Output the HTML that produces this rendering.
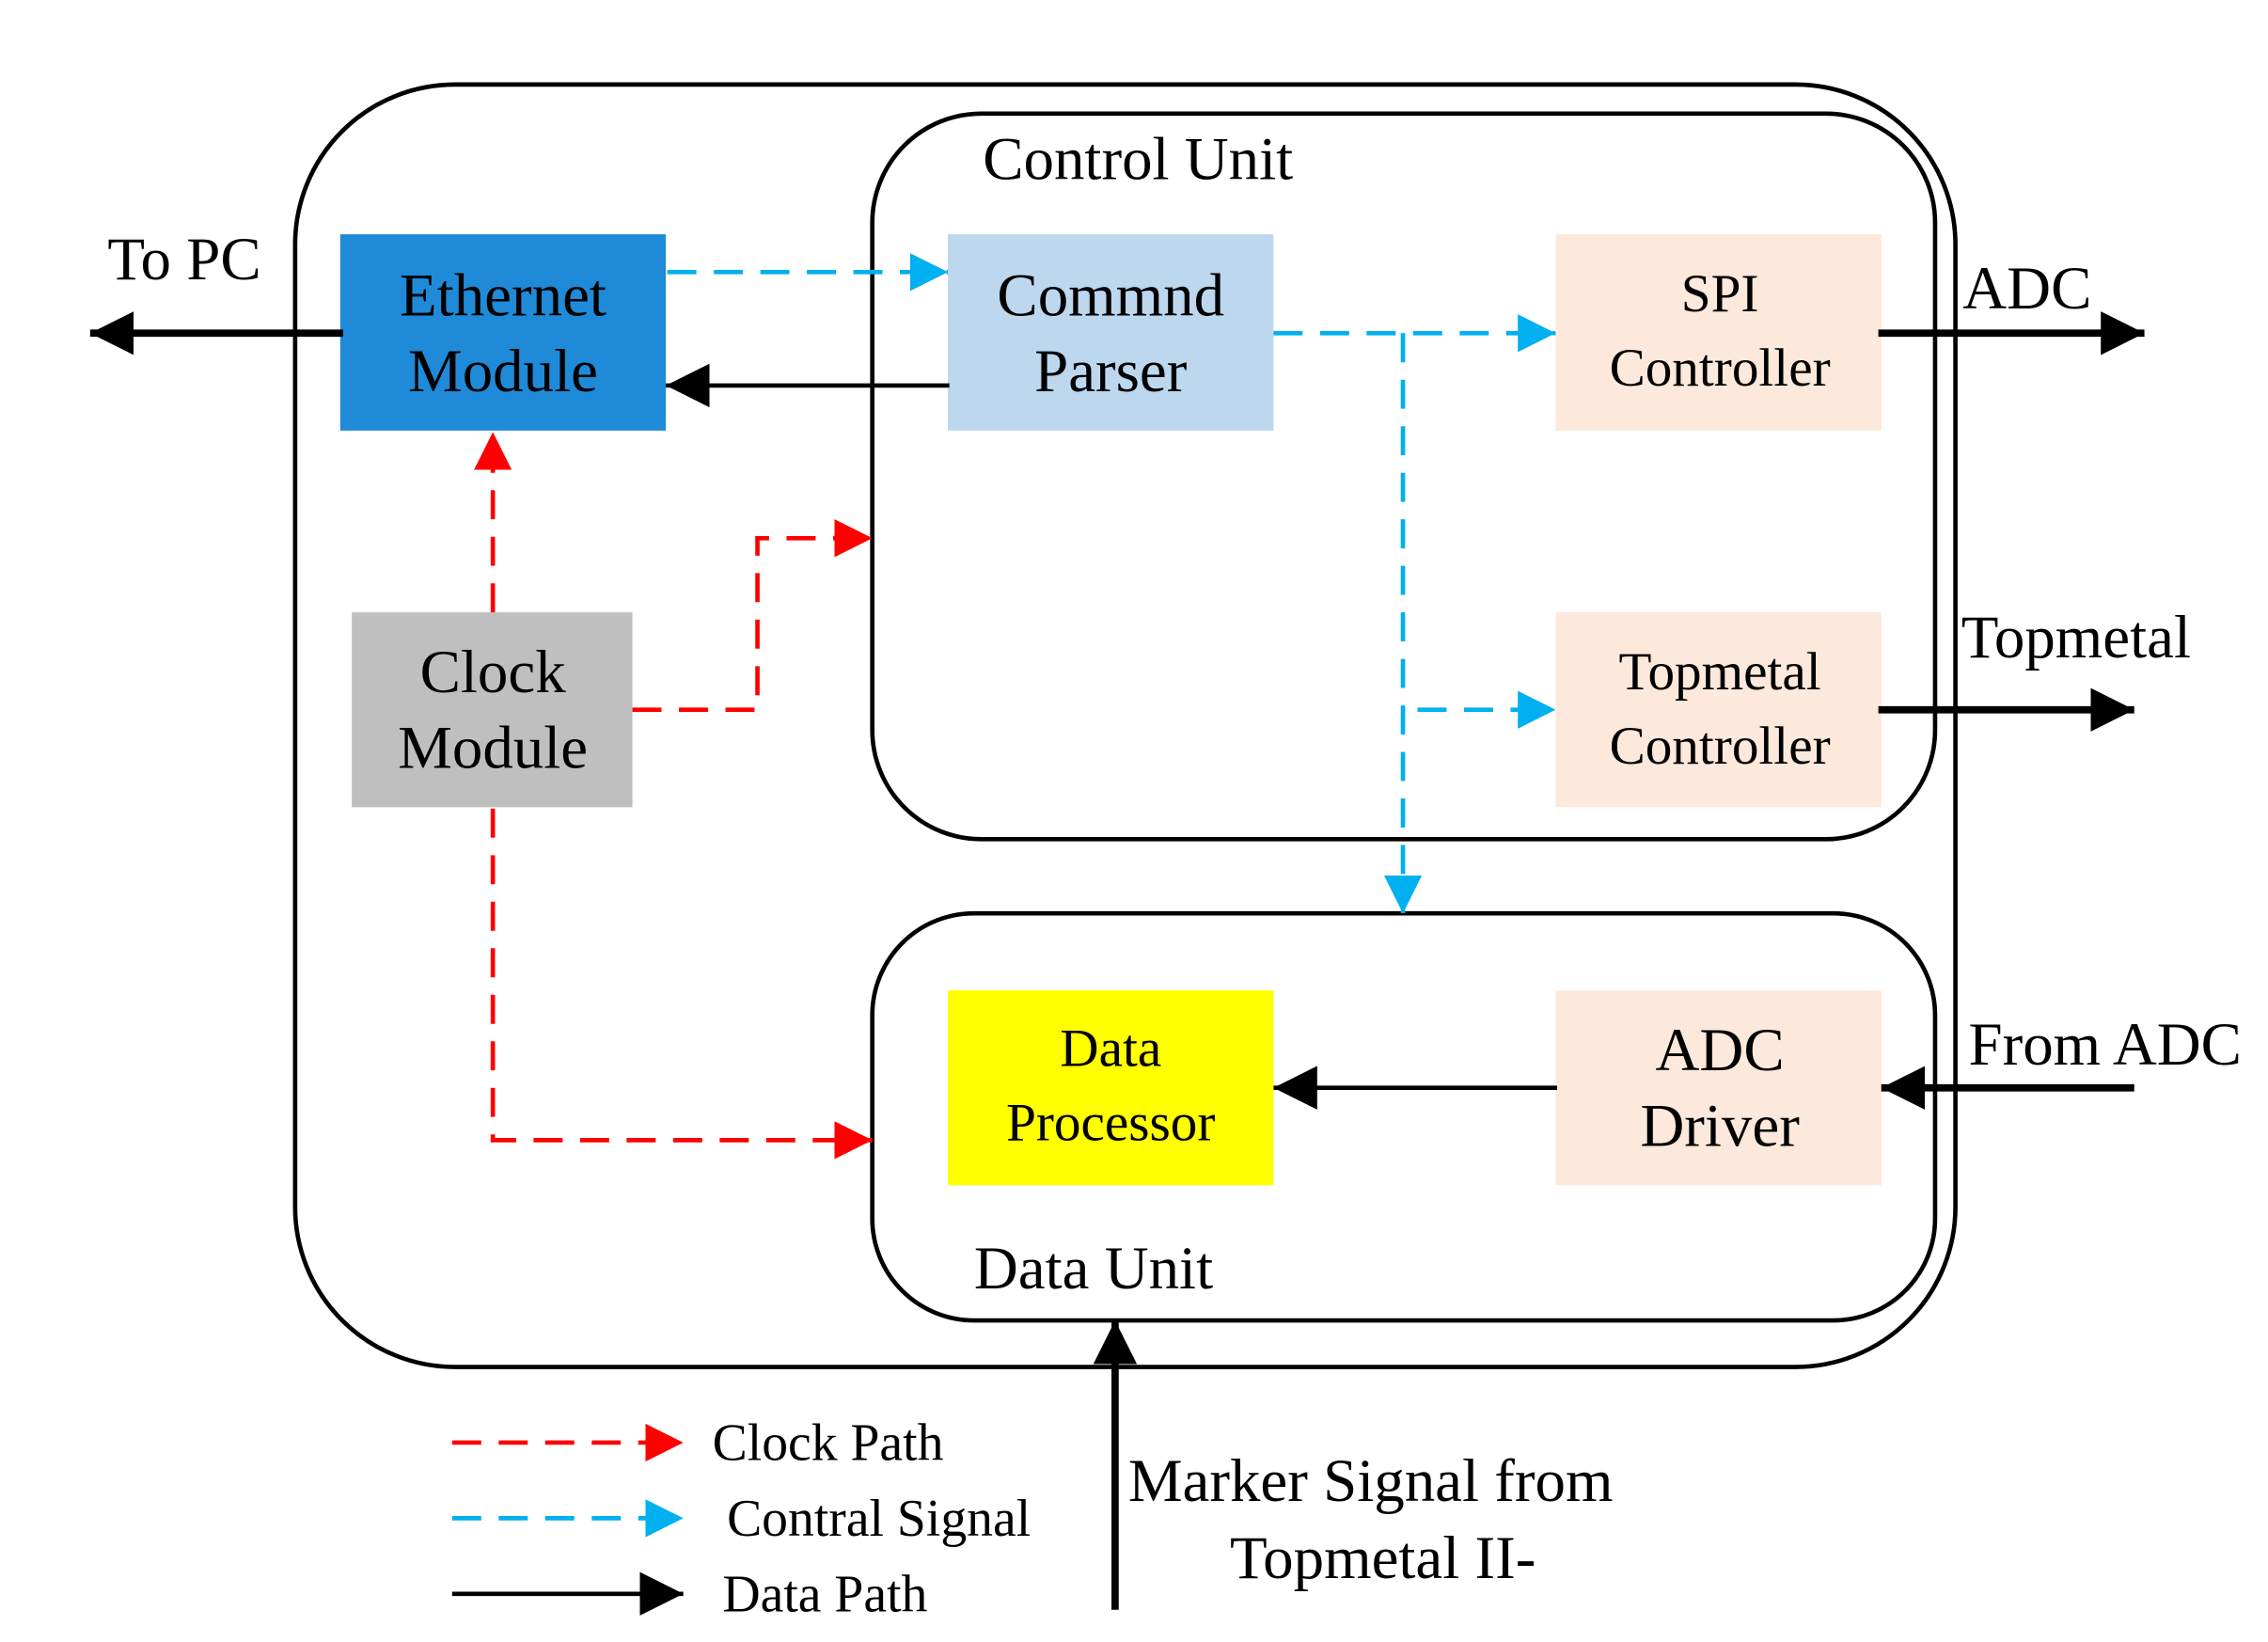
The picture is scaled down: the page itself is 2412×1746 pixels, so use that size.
<!DOCTYPE html>
<html><head><style>html,body{margin:0;padding:0;background:#fff}svg{display:block}</style></head>
<body>
<svg width="2412" height="1746" viewBox="0 0 1560 1129" xmlns="http://www.w3.org/2000/svg" font-family="'Liberation Serif',serif">
<defs>
<marker id="ar" markerWidth="26" markerHeight="26" refX="26" refY="13" orient="auto" markerUnits="userSpaceOnUse"><path d="M0,0 L26,13 L0,26z" fill="#ff0000"/></marker>
<marker id="au" markerWidth="26" markerHeight="26" refX="26" refY="13" orient="auto" markerUnits="userSpaceOnUse"><path d="M0,0 L26,13 L0,26z" fill="#00b0f0"/></marker>
<marker id="ak" markerWidth="30" markerHeight="30" refX="30" refY="15" orient="auto" markerUnits="userSpaceOnUse"><path d="M0,0 L30,15 L0,30z" fill="#000"/></marker>
</defs>
<rect x="203" y="58" width="1142" height="882" rx="110" fill="none" stroke="#000" stroke-width="3"/>
<rect x="600" y="78" width="731" height="499" rx="75" fill="none" stroke="#000" stroke-width="3"/>
<rect x="600" y="628" width="731" height="280" rx="70" fill="none" stroke="#000" stroke-width="3"/>

<rect x="234" y="161" width="224" height="135" fill="#1f8ad8"/>
<rect x="652" y="161" width="224" height="135" fill="#bdd7ee"/>
<rect x="1070" y="161" width="224" height="135" fill="#fce9db"/>
<rect x="1070" y="421" width="224" height="134" fill="#fce9db"/>
<rect x="242" y="421" width="193" height="134" fill="#bfbfbf"/>
<rect x="652" y="681" width="224" height="134" fill="#ffff00"/>
<rect x="1070" y="681" width="224" height="134" fill="#fce9db"/>

<g font-size="42" text-anchor="middle" fill="#000">
<text x="346" y="217">Ethernet</text><text x="346" y="269">Module</text>
<text x="764" y="217">Commnd</text><text x="764" y="269">Parser</text>
<text x="339" y="476">Clock</text><text x="339" y="528">Module</text>
<text x="1183" y="736">ADC</text><text x="1183" y="788">Driver</text>
</g>
<g font-size="37" text-anchor="middle" fill="#000">
<text x="1183" y="214">SPI</text><text x="1183" y="265">Controller</text>
<text x="1183" y="474">Topmetal</text><text x="1183" y="525">Controller</text>
<text x="764" y="733">Data</text><text x="764" y="784">Processor</text>
</g>
<g font-size="42" fill="#000">
<text x="676" y="123">Control Unit</text>
<text x="670" y="886">Data Unit</text>
<text x="74" y="192">To PC</text>
<text x="1350" y="212">ADC</text>
<text x="1349" y="452">Topmetal</text>
<text x="1354" y="732">From ADC</text>
<text x="776" y="1032">Marker Signal from</text>
<text x="846" y="1085">Topmetal II-</text>
</g>
<g font-size="36" fill="#000">
<text x="490" y="1004">Clock Path</text>
<text x="500" y="1056">Contral Signal</text>
<text x="497" y="1108">Data Path</text>
</g>

<g stroke="#000" stroke-width="5" fill="none">
<line x1="236" y1="229" x2="62" y2="229" marker-end="url(#ak)"/>
<line x1="1292" y1="229" x2="1475" y2="229" marker-end="url(#ak)"/>
<line x1="1292" y1="488" x2="1468" y2="488" marker-end="url(#ak)"/>
<line x1="1468" y1="748" x2="1294" y2="748" marker-end="url(#ak)"/>
<line x1="767" y1="1107" x2="767" y2="908" marker-end="url(#ak)"/>
</g>
<g stroke="#000" stroke-width="3" fill="none">
<line x1="653" y1="265" x2="458" y2="265" marker-end="url(#ak)"/>
<line x1="1071" y1="748" x2="876" y2="748" marker-end="url(#ak)"/>
<line x1="311" y1="1096" x2="470" y2="1096" marker-end="url(#ak)"/>
</g>
<g stroke="#00b0f0" stroke-width="3" fill="none" stroke-dasharray="20,12">
<line x1="459" y1="187" x2="652" y2="187" marker-end="url(#au)"/>
<line x1="876" y1="229" x2="1070" y2="229" marker-end="url(#au)"/>
<polyline points="965,229 965,628" marker-end="url(#au)"/>
<line x1="975" y1="488" x2="1070" y2="488" marker-end="url(#au)"/>
<line x1="311" y1="1044" x2="470" y2="1044" marker-end="url(#au)"/>
</g>
<g stroke="#ff0000" stroke-width="3" fill="none" stroke-dasharray="20,12">
<line x1="339" y1="421" x2="339" y2="297" marker-end="url(#ar)"/>
<polyline points="435,488 521,488 521,370 600,370" marker-end="url(#ar)"/>
<polyline points="339,556 339,784 600,784" marker-end="url(#ar)"/>
<line x1="311" y1="992" x2="470" y2="992" marker-end="url(#ar)"/>
</g>
</svg>
</body></html>
